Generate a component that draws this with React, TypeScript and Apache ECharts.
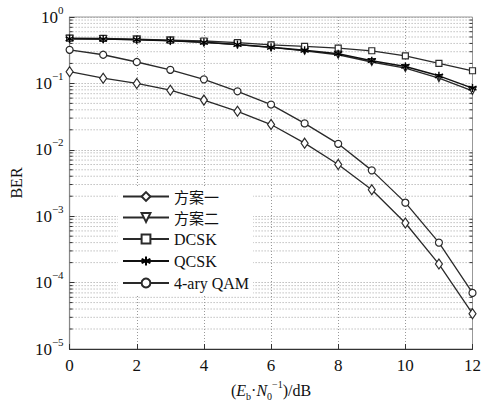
import React, { useEffect, useRef } from "react";
import * as echarts from "echarts";

const snr = [0, 1, 2, 3, 4, 5, 6, 7, 8, 9, 10, 11, 12];
const scheme1 = [0.15, 0.12, 0.1, 0.079, 0.056, 0.038, 0.024, 0.0126, 0.006, 0.0025, 0.00079, 0.00019, 0.000034];
const scheme2 = [0.47, 0.465, 0.455, 0.44, 0.415, 0.385, 0.35, 0.31, 0.27, 0.21, 0.17, 0.12, 0.077];
const dcsk = [0.48, 0.475, 0.465, 0.45, 0.435, 0.41, 0.38, 0.36, 0.34, 0.31, 0.26, 0.2, 0.155];
const qcsk = [0.47, 0.465, 0.455, 0.44, 0.415, 0.385, 0.35, 0.315, 0.28, 0.22, 0.18, 0.13, 0.085];
const qam4 = [0.32, 0.27, 0.21, 0.16, 0.115, 0.076, 0.048, 0.025, 0.0123, 0.0049, 0.0016, 0.0004, 0.00007];

const seriesNames = ["方案一", "方案二", "DCSK", "QCSK", "4-ary QAM"];
const decades = [1e-5, 1e-4, 1e-3, 1e-2, 1e-1];
const minorMultipliers = [2, 3, 4, 5, 6, 7, 8, 9];
const xMin = 0;
const xMax = 12;

const SERIF = "Liberation Serif";
const CJK = "Noto Sans CJK SC";
const LINE = "#2a2a2a";
const ASTERISK = "path://M0,-5L0,5M-4.33,-2.5L4.33,2.5M-4.33,2.5L4.33,-2.5";

export default function App() {
  const ref = useRef<HTMLDivElement>(null);
  useEffect(() => {
    if (!ref.current) return;
    const chart = echarts.init(ref.current, undefined, { renderer: "svg" });
    const pair = (arr: number[]) => snr.map((x, i) => [x, arr[i]]);
    const minorValues: number[][] = [];
    decades.forEach((d) => minorMultipliers.forEach((m) => minorValues.push([xMin, d * m])));

    const mk = (name: string, data: number[], symbol: string, extra: any = {}) => ({
      name,
      type: "line",
      data: pair(data),
      symbol,
      symbolSize: 6,
      showAllSymbol: true,
      lineStyle: { color: LINE, width: 1.3 },
      itemStyle: { color: "#fff", borderColor: LINE, borderWidth: 1.2 },
      z: 3,
      ...extra,
    });

    chart.setOption({
      animation: false,
      textStyle: { fontFamily: SERIF },
      grid: {
        left: 69,
        top: 17,
        right: 7,
        bottom: 49,
        show: true,
        borderColor: "#999",
        borderWidth: 1,
        backgroundColor: "#fff",
      },
      legend: {
        orient: "vertical",
        left: 118,
        top: 186,
        itemWidth: 46,
        itemHeight: 11,
        itemGap: 6,
        padding: [3, 4, 3, 4],
        backgroundColor: "#fff",
        data: seriesNames,
        z: 10,
        formatter: (name: string) => (/[\u4e00-\u9fff]/.test(name) ? `{c|${name}}` : `{l|${name}}`),
        textStyle: {
          fontSize: 16,
          color: "#111",
          rich: {
            c: { fontFamily: CJK, fontSize: 15, color: "#111" },
            l: { fontFamily: SERIF, fontSize: 16, color: "#111" },
          },
        },
      },
      xAxis: {
        type: "value",
        min: xMin,
        max: xMax,
        interval: 2,
        name: "{p|(}{i|E}{sb|b}{p|·}{i|N}{sb|0}{sp|−1}{p|)/dB}",
        nameLocation: "middle",
        nameGap: 30,
        nameTextStyle: {
          rich: {
            p: { fontFamily: SERIF, fontSize: 16, color: "#111", lineHeight: 22 },
            i: { fontFamily: SERIF, fontSize: 16, fontStyle: "italic", color: "#111", lineHeight: 22 },
            sb: { fontFamily: SERIF, fontSize: 10, color: "#111", verticalAlign: "bottom", lineHeight: 12 },
            sp: { fontFamily: SERIF, fontSize: 10, color: "#111", verticalAlign: "top", lineHeight: 12 },
          },
        },
        axisLine: { lineStyle: { color: "#333", width: 1.2 } },
        axisTick: { inside: true, length: 5, lineStyle: { color: "#333" } },
        axisLabel: {
          formatter: (v: number) => `{t|${v}}`,
          rich: { t: { fontFamily: SERIF, fontSize: 17, color: "#111" } },
          margin: 8,
        },
        splitLine: { show: true, lineStyle: { color: "#999", type: [1, 2], width: 1 } },
      },
      yAxis: {
        type: "log",
        logBase: 10,
        min: 1e-5,
        max: 1,
        name: "BER",
        nameLocation: "middle",
        nameGap: 40,
        nameRotate: 90,
        nameTextStyle: { fontFamily: SERIF, fontSize: 16, color: "#111" },
        axisLine: { lineStyle: { color: "#888", width: 1.2 } },
        axisTick: { inside: true, length: 5, lineStyle: { color: "#333" } },
        axisLabel: {
          margin: 6,
          formatter: (v: number) => {
            const e = Math.round(Math.log10(v));
            return `{b|10}{s|${e < 0 ? "−" + -e : e}}`;
          },
          rich: {
            b: { fontFamily: SERIF, fontSize: 17, color: "#111", lineHeight: 26 },
            s: { fontFamily: SERIF, fontSize: 11, color: "#111", verticalAlign: "top", lineHeight: 12 },
          },
        },
        splitLine: { show: true, lineStyle: { color: "#999", type: [1, 2], width: 1 } },
      },
      series: [
        {
          name: "minorGrid",
          type: "custom",
          silent: true,
          z: 1,
          data: minorValues,
          encode: { x: 0, y: 1 },
          renderItem: (params: any, api: any) => {
            const v = api.value(1);
            const p1 = api.coord([xMin, v]);
            const p2 = api.coord([xMax, v]);
            return {
              type: "group",
              children: [
                {
                  type: "line",
                  shape: { x1: p1[0], y1: p1[1], x2: p2[0], y2: p2[1] },
                  style: { stroke: "#a0a0a0", lineWidth: 1, lineDash: [1, 2] },
                },
                {
                  type: "line",
                  shape: { x1: p1[0], y1: p1[1], x2: p1[0] + 3, y2: p1[1] },
                  style: { stroke: "#333", lineWidth: 1 },
                },
                {
                  type: "line",
                  shape: { x1: p2[0] - 3, y1: p2[1], x2: p2[0], y2: p2[1] },
                  style: { stroke: "#333", lineWidth: 1 },
                },
              ],
            };
          },
        },
        mk(seriesNames[0], scheme1, "diamond", { symbolSize: [7, 10] }),
        mk(seriesNames[1], scheme2, "triangle", { symbolRotate: 180, symbolSize: 7 }),
        mk(seriesNames[2], dcsk, "rect", { symbolSize: 6 }),
        mk(seriesNames[3], qcsk, ASTERISK, {
          symbolSize: 8,
          itemStyle: { color: "none", borderColor: "#000", borderWidth: 1.4 },
          lineStyle: { color: "#111", width: 1.5 },
        }),
        mk(seriesNames[4], qam4, "circle", { symbolSize: 7 }),
      ],
    });
    return () => chart.dispose();
  }, []);
  return <div ref={ref} style={{ width: 484, height: 406, position: "absolute", left: 0, top: 0 }} />;
}
